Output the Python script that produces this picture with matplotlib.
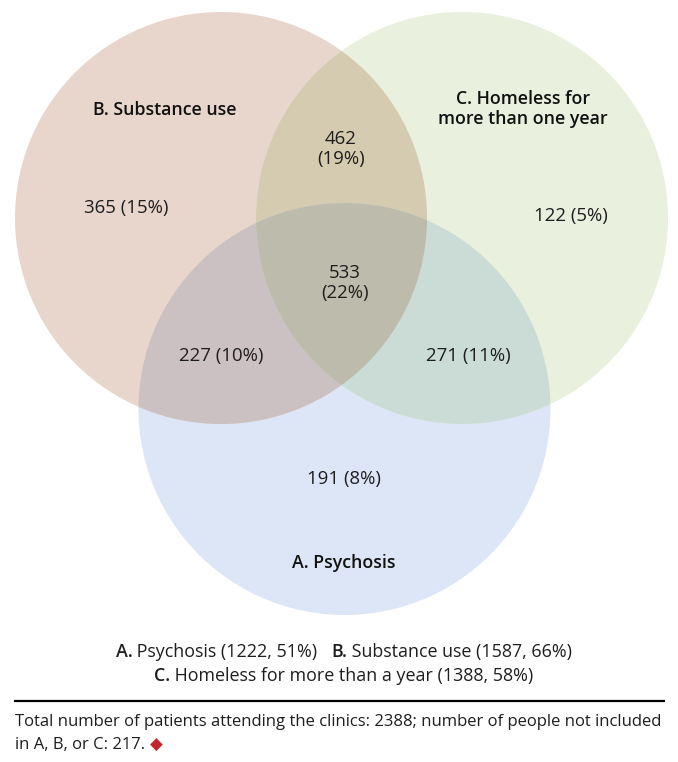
import numpy as np
import matplotlib.pyplot as plt
from matplotlib.patches import Circle, Polygon

# Venn data
set_labels = ["A. Psychosis", "B. Substance use", "C. Homeless for\nmore than one year"]
only_counts = {"A": 191, "B": 365, "C": 122}
only_pcts = {"A": 8, "B": 15, "C": 5}
pair_counts = {"AB": 227, "AC": 271, "BC": 462}
pair_pcts = {"AB": 10, "AC": 11, "BC": 19}
all_count = 533
all_pct = 22

legend_keys = ["A.", "B.", "C."]
legend_names = ["Psychosis", "Substance use", "Homeless for more than a year"]
legend_totals = [1222, 1587, 1388]
legend_pcts = [51, 66, 58]

total_patients = 2388
not_included = 217

# layout (pixel coordinates, y pointing down)
W, H = 678, 762
R = 206
centers = {"A": (344.5, 409), "B": (221, 218), "C": (462, 218)}

col_single = {"A": "#dde6f6", "B": "#e8d6cc", "C": "#e9f0dd"}
col_pair = {"AB": "#cbc1c2", "AC": "#cbdcd6", "BC": "#d5cbb0"}
col_all = "#bdbbab"

FONT = "Open Sans"
TXT = "#1e1e1e"

fig = plt.figure(figsize=(W / 100, H / 100), dpi=100)
ax = fig.add_axes([0, 0, 1, 1])
ax.set_xlim(0, W)
ax.set_ylim(H, 0)
ax.set_aspect("equal")
ax.axis("off")

circ = {}
for k in "ABC":
    c = Circle(centers[k], R, facecolor=col_single[k], edgecolor="none", zorder=1)
    ax.add_patch(c)
    circ[k] = c

# pair overlaps, drawn by clipping one circle to another
for pair, (k1, k2) in {"BC": ("B", "C"), "AB": ("A", "B"), "AC": ("A", "C")}.items():
    p = Circle(centers[k1], R, facecolor=col_pair[pair], edgecolor="none", zorder=2)
    ax.add_patch(p)
    p.set_clip_path(circ[k2])


def lens(c1, c2, r, n=200):
    (x1, y1), (x2, y2) = c1, c2
    d = np.hypot(x2 - x1, y2 - y1)
    a = d / 2
    h = np.sqrt(r ** 2 - a ** 2)
    ang = np.arctan2(y2 - y1, x2 - x1)
    half = np.arctan2(h, a)
    t1 = np.linspace(ang - half, ang + half, n)
    t2 = np.linspace(ang + np.pi - half, ang + np.pi + half, n)
    pts1 = np.column_stack([x1 + r * np.cos(t1), y1 + r * np.sin(t1)])
    pts2 = np.column_stack([x2 + r * np.cos(t2), y2 + r * np.sin(t2)])
    return np.vstack([pts1, pts2])


lens_bc = Polygon(lens(centers["B"], centers["C"], R), closed=True,
                  facecolor="none", edgecolor="none")
ax.add_patch(lens_bc)
tri = Circle(centers["A"], R, facecolor=col_all, edgecolor="none", zorder=3)
ax.add_patch(tri)
tri.set_clip_path(lens_bc)

# region labels
kw = dict(ha="center", va="center", family=FONT, fontsize=13.4, color=TXT, zorder=5)
ax.text(126, 208, f"{only_counts['B']} ({only_pcts['B']}%)", **kw)
ax.text(571, 216, f"{only_counts['C']} ({only_pcts['C']}%)", **kw)
ax.text(344, 479, f"{only_counts['A']} ({only_pcts['A']}%)", **kw)
ax.text(341, 149, f"{pair_counts['BC']}\n({pair_pcts['BC']}%)", linespacing=1.1, **kw)
ax.text(221, 356, f"{pair_counts['AB']} ({pair_pcts['AB']}%)", **kw)
ax.text(468, 356, f"{pair_counts['AC']} ({pair_pcts['AC']}%)", **kw)
ax.text(345, 283, f"{all_count}\n({all_pct}%)", linespacing=1.1, **kw)

bkw = dict(kw, fontweight="semibold", color="#111111", fontsize=12.8)
ax.text(165, 110, set_labels[1], **bkw)
ax.text(523, 109, set_labels[2], linespacing=1.18, **bkw)
ax.text(344, 563, set_labels[0], **bkw)

# legend lines with bold keys
fig.canvas.draw()
renderer = fig.canvas.get_renderer()


def rich_line(pieces, y, cx, size):
    arts = []
    for txt, bold in pieces:
        t = ax.text(0, y, txt, ha="left", va="center", family=FONT, fontsize=size,
                    color=TXT, fontweight="semibold" if bold else "normal")
        arts.append(t)
    widths = [t.get_window_extent(renderer).width for t in arts]
    x = cx - sum(widths) / 2
    for t, w in zip(arts, widths):
        t.set_x(x)
        x += w


rich_line([(legend_keys[0], True), (f" {legend_names[0]} ({legend_totals[0]}, {legend_pcts[0]}%)   ", False),
           (legend_keys[1], True), (f" {legend_names[1]} ({legend_totals[1]}, {legend_pcts[1]}%)", False)],
          652, 344, 12.9)
rich_line([(legend_keys[2], True), (f" {legend_names[2]} ({legend_totals[2]}, {legend_pcts[2]}%)", False)],
          676, 344, 12.9)

ax.plot([14, 665], [701, 701], color="black", lw=1.6, solid_capstyle="butt")

ax.text(15, 722, "Total number of patients attending the clinics: "
        f"{total_patients}; number of people not included",
        ha="left", va="center", family=FONT, fontsize=12, color=TXT)
t2 = ax.text(15, 745, f"in A, B, or C: {not_included}. ", ha="left", va="center",
             family=FONT, fontsize=12, color=TXT)
fig.canvas.draw()
x_end = t2.get_window_extent(renderer).x1
ax.text(x_end, 745, "\u25c6", ha="left", va="center", family="DejaVu Sans",
        fontsize=12, color="#c4262e")

fig.savefig("out.png", dpi=100)
